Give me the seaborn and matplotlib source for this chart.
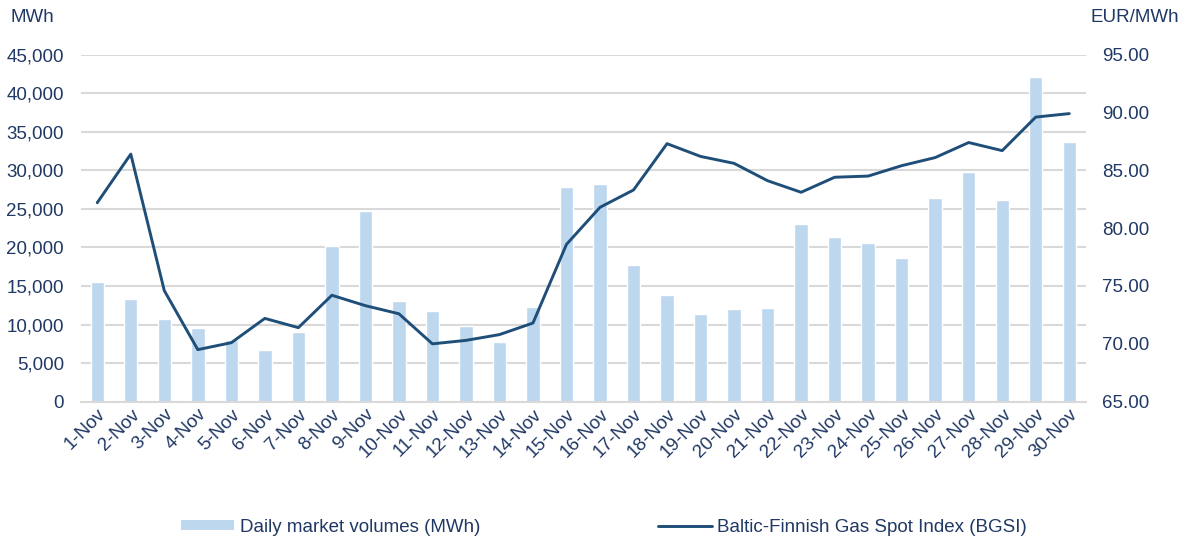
import numpy as np
import pandas as pd
import matplotlib
matplotlib.use("Agg")
import matplotlib.pyplot as plt
import seaborn as sns
from matplotlib.patches import Patch
from matplotlib.lines import Line2D

days = [f"{d}-Nov" for d in range(1, 31)]
volumes = [15500, 13250, 10700, 9500, 7950, 6700, 9000, 20200, 24700, 13050,
           11750, 9850, 7750, 12300, 27850, 28200, 17700, 13850, 11400, 12000,
           12100, 23050, 21300, 20550, 18650, 26400, 29750, 26100, 42100, 33650]
bgsi = [82.2, 86.4, 74.6, 69.5, 70.1, 72.2, 71.4, 74.2, 73.3, 72.6,
        70.0, 70.3, 70.8, 71.8, 78.6, 81.8, 83.3, 87.3, 86.2, 85.6,
        84.1, 83.1, 84.4, 84.5, 85.4, 86.1, 87.4, 86.7, 89.6, 89.9]
left_ticks = list(range(0, 45001, 5000))
right_ticks = [65, 70, 75, 80, 85, 90, 95]

sns.set_theme(style="white")
plt.rcParams['font.family'] = ['Liberation Sans', 'DejaVu Sans']

TXT = "#203864"
BAR = "#bdd7ee"
LINE = "#1f4e79"
GRID = "#d9d9d9"
FS = 13.5

fig = plt.figure(figsize=(11.88, 5.39), dpi=100)
ax = fig.add_axes([80.5 / 1188, 1 - 401.7 / 539, (1086 - 80.5) / 1188, (401.7 - 54.6) / 539])

df = pd.DataFrame({"day": days, "vol": volumes, "bgsi": bgsi})
sns.barplot(data=df, x="day", y="vol", color=BAR, saturation=1, width=0.4, ax=ax, zorder=2)
ax.set_xlim(-0.5, len(days) - 0.5)
ax.set_ylim(0, 45000)
ax.set_yticks(left_ticks)
ax.set_yticklabels([f"{v:,}" for v in left_ticks])
ax.yaxis.grid(True, color=GRID, linewidth=1.5, zorder=0)
ax.set_axisbelow(True)
for s in ax.spines.values():
    s.set_visible(False)
ax.spines['bottom'].set_visible(True)
ax.spines['bottom'].set_color(GRID)
ax.spines['bottom'].set_linewidth(1.5)
ax.set_xlabel("")
ax.set_ylabel("")
ax.tick_params(axis='y', length=0, labelsize=FS, labelcolor=TXT, pad=12)
ax.tick_params(axis='x', length=0, labelsize=FS, labelcolor=TXT, pad=3)
plt.setp(ax.get_xticklabels(), rotation=45, ha="right", rotation_mode="anchor")

ax2 = ax.twinx()
sns.lineplot(x=np.arange(len(days)), y=df["bgsi"], ax=ax2, color=LINE, linewidth=2.1)
ax2.set_ylim(65, 95)
ax2.set_yticks(right_ticks)
ax2.set_yticklabels([f"{v:.2f}" for v in right_ticks])
ax2.tick_params(axis='y', length=0, labelsize=FS, labelcolor=TXT, pad=11.5)
ax2.set_ylabel("")
for s in ax2.spines.values():
    s.set_visible(False)
ax2.grid(False)

fig.text(10 / 1188, 1 - 18 / 539, "MWh", color=TXT, fontsize=FS, va="center", ha="left")
fig.text(1090 / 1188, 1 - 18 / 539, "EUR/MWh", color=TXT, fontsize=FS, va="center", ha="left")

handles = [Patch(facecolor=BAR, edgecolor="none"),
           Line2D([0], [0], color=LINE, linewidth=2.1)]
labels = ["Daily market volumes (MWh)", "Baltic-Finnish Gas Spot Index (BGSI)"]
fig.legend(handles, labels, loc="center", bbox_to_anchor=(604 / 1188, 1 - 527 / 539), ncol=2,
           frameon=False, fontsize=FS, labelcolor=TXT, columnspacing=9.5,
           handlelength=2.85, handleheight=0.45, handletextpad=0.3)

fig.savefig("out.png", dpi=100)
